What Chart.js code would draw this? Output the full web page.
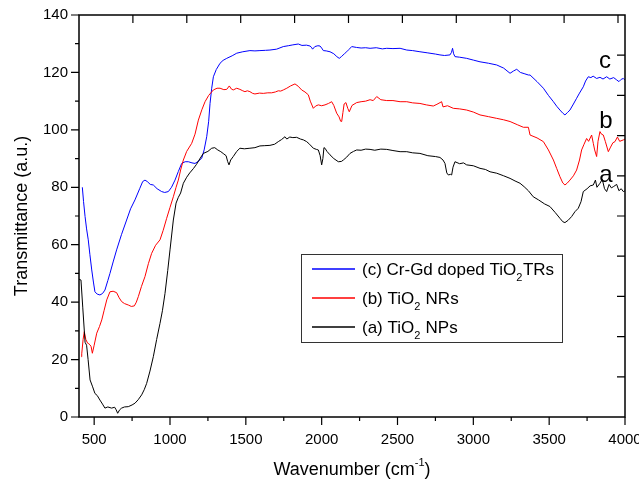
<!DOCTYPE html>
<html>
<head>
<meta charset="utf-8">
<script src="https://cdn.jsdelivr.net/npm/chart.js@4.4.1/dist/chart.umd.min.js"></script>
<style>
html,body{margin:0;padding:0;background:#fff;}
#c{display:block;}
</style>
</head>
<body>
<canvas id="c" width="639" height="484"></canvas>
<script>
// ---- Data ----
const waveA = [400,413,425,440,450,460,473,490,505,520,538,555,571,590,615,635,645,655,668,681,700,725,750,769,790,813,830,846,868,890,912,934,950,967,985,1000,1022,1040,1055,1070,1088,1110,1130,1154,1175,1200,1220,1250,1275,1295,1315,1335,1355,1370,1380,1389,1400,1417,1440,1461,1490,1527,1560,1593,1625,1659,1690,1714,1735,1758,1770,1790,1810,1835,1860,1880,1901,1920,1945,1965,1978,1990,2000,2008,2015,2022,2035,2055,2080,2110,2130,2143,2165,2187,2210,2231,2260,2290,2319,2350,2390,2429,2470,2517,2561,2600,2648,2700,2750,2780,2800,2813,2825,2835,2850,2857,2866,2879,2910,2935,2956,3000,3044,3080,3110,3154,3200,3242,3275,3308,3335,3363,3395,3430,3470,3505,3540,3571,3590,3604,3625,3648,3670,3692,3710,3725,3750,3770,3791,3805,3815,3835,3850,3865,3879,3895,3910,3923,3945,3960,3975,3989,4000];
const transA = [48,47.7,38,26,25,20,12.9,10.5,8.2,7.5,5.9,4.5,3.1,3.5,3.1,3.4,2.5,1.3,2.5,3.1,3.5,3.6,4.2,4.8,6,7.7,9.5,11.7,16,21,27,32.6,37,43,51,58.2,68.6,74.5,76.5,78,81.4,83.5,85,86.5,88,90.2,91.8,92.5,93.6,93.8,93,92.4,91.6,91,89,87.8,89.5,90.7,92.5,93.6,93.4,93.6,93.8,94.4,94.5,94.6,95,95.9,96.6,97.6,96.8,97.5,97.3,97.4,96.8,96.5,95.9,95,93.6,93.2,93,91,87.8,90,93.8,93.6,92.5,91.3,90,88.9,89,89.5,90.5,91.8,92.5,93,92.9,93.3,93.2,92.9,93.3,93.2,92.8,92.4,92.4,92,91.8,91,90.7,90.4,89.5,88.3,85,84.3,84.5,84.3,87,88.9,88.2,88.5,87.8,87.5,86.6,86.2,85.4,84.9,84,83.1,82.2,81.4,80.2,78.8,76.7,75.6,74.2,73.3,71.2,69.2,68,67.7,68.5,69.8,71.5,72.7,75,78.5,79.5,80.5,80.8,82.5,80,81.4,82.8,79.5,78.5,81,79.8,80.2,81,78.8,79.5,78.5,78.8];

const waveB = [415,418,427,435,445,457,465,473,480,488,500,517,535,550,565,583,604,625,648,665,681,700,725,745,765,778,791,812,835,858,879,905,934,955,978,1000,1022,1040,1055,1070,1088,1110,1143,1165,1187,1210,1231,1255,1286,1310,1330,1355,1374,1391,1405,1417,1440,1461,1480,1494,1510,1527,1545,1560,1590,1615,1645,1670,1695,1714,1730,1747,1770,1795,1824,1845,1868,1890,1912,1925,1945,1960,1978,2000,2022,2045,2066,2080,2099,2115,2125,2132,2140,2148,2160,2172,2182,2200,2231,2260,2290,2319,2340,2363,2390,2429,2470,2517,2561,2600,2648,2690,2736,2760,2791,2800,2830,2868,2910,2956,3000,3044,3100,3154,3200,3242,3290,3330,3363,3374,3420,3462,3495,3528,3550,3571,3590,3604,3620,3637,3660,3681,3700,3714,3730,3747,3760,3780,3791,3800,3813,3822,3835,3845,3857,3870,3890,3905,3920,3934,3950,3965,3989,4000];
const transB = [21,22,27,29.7,27,25.7,25.5,25.1,24.5,22.2,25,29.2,31.5,33.8,37,40.8,43.6,43.8,43.3,41.5,40.2,39.5,39,38.5,38.7,40,41.9,45.5,48.9,53.5,57,59.8,61.7,65,69.2,73,76.7,80,82.5,86,89.5,92.5,95.3,98.5,103.4,107,109.8,112,113.9,114.5,114.5,114,114.1,115.3,114.2,113.9,114.5,114.1,113.6,113.3,113.6,113.3,112.7,112.5,112.8,112.7,112.9,112.9,113.2,113.6,113.5,113.9,114.5,115.3,116,115.2,113.9,113.2,112.2,110,107.5,108.3,108.7,108.4,108.7,109.2,109.8,108.5,105.8,104.5,103,102.9,106,109,109.5,107.5,106.3,108.5,109.5,109.8,110,110.5,110.2,111.6,110.5,110.2,110.2,109.8,109.8,109.4,109.2,108.7,108.3,108.9,109.8,108,108.4,107.5,107.3,106.9,106.2,105.2,104.6,104,103.5,102.9,101.8,100.9,100.9,98.2,97.2,95.9,93,89.5,86.5,83.7,81.5,80.8,81.5,82.5,84,86,89.5,93,95,97,96,98.2,95.3,93,90.7,96,99.4,98.5,98.2,96,92.4,94,95.5,95.9,97.5,96,96.5,96.8];

const waveC = [422,430,440,450,461,472,484,495,505,520,538,555,571,590,604,625,648,680,714,740,769,800,820,835,850,870,890,915,945,965,989,1010,1033,1055,1077,1100,1121,1145,1165,1185,1209,1225,1242,1255,1264,1275,1286,1305,1330,1350,1374,1410,1440,1480,1527,1560,1593,1630,1659,1703,1747,1780,1810,1846,1870,1900,1923,1932,1940,1955,1975,1989,2000,2011,2030,2055,2080,2100,2116,2130,2150,2165,2180,2198,2230,2260,2290,2319,2360,2400,2429,2470,2517,2561,2600,2648,2700,2750,2780,2810,2846,2856,2863,2870,2879,2910,2956,3000,3044,3100,3154,3200,3242,3265,3286,3310,3340,3363,3374,3420,3462,3495,3528,3550,3571,3590,3604,3620,3637,3660,3681,3700,3725,3740,3758,3775,3790,3813,3835,3855,3879,3900,3925,3945,3960,3975,3989,4000];
const transC = [80,75,69.8,65.5,61.7,56.5,51.2,47,43.6,42.8,42.5,43,44.2,47.5,50,54,58.2,63.5,68.6,72.5,75.6,79.5,82,82.5,82,81,80.8,79.5,78.5,78.2,78.5,80,82.5,85.5,88.3,88.9,88.9,88.5,88.3,89,90.1,93,97.6,103,109.2,114.5,118.5,121,123.2,124.2,124.9,125.8,126.7,127.2,127.6,127.5,127.6,127.7,127.8,128.1,129,129.3,129.6,129.9,129.4,129.5,129.2,128.8,128.1,129,129.3,129.2,128.5,127.6,127.5,127.2,126.5,125.5,124.9,125.5,126.5,127.2,128,129,128.7,128.5,128.6,128.4,128.6,128.2,128.4,128.3,128.4,127.8,127.6,127.2,126.8,126.4,126.1,125.9,126.1,127,128.4,126.5,125.5,125.3,124.9,124.3,123.7,123.2,122.6,121.5,119.7,120.5,121.1,120,119.5,119.1,119.1,116.8,114.5,112,109.8,108.2,106.9,105.8,105.2,106,106.9,109,111,112.8,115,117,118.5,118.2,118.7,117.9,118.3,117.7,118.5,117.7,118.2,117.4,116.8,117.6,117.9,117.3];

const seriesNames = ['(c) Cr-Gd doped TiO|2|TRs', '(b) TiO|2| NRs', '(a) TiO|2| NPs'];
const curveLetters = ['c', 'b', 'a'];
const letterWave = [3868, 3875, 3875];
const letterTrans = [121.6, 100.7, 82.0];

const xTickLabels = [500,1000,1500,2000,2500,3000,3500,4000];
const xMinorTicks = [750,1250,1750,2250,2750,3250,3750];
const yTickLabels = [0,20,40,60,80,100,120,140];
const yMinorTicks = [10,30,50,70,90,110,130];
const topTicks = [1,2,3,4,5,6,7,8,9,10];
const rightTicks = [1,2,3,4,5,6,7,8,9];

const xTitle = ['Wavenumber (cm', '-1', ')'];
const yTitle = 'Transmittance (a.u.)';

const FONT = '"Liberation Sans", Arial, sans-serif';

function pts(w, t) { return w.map((v, i) => ({x: v, y: t[i]})); }

const decor = {
  id: 'decor',
  afterDraw(chart) {
    const ctx = chart.ctx;
    const a = chart.chartArea;
    const sx = chart.scales.x, sy = chart.scales.y;
    const st = chart.scales.xTop, sr = chart.scales.yRight;
    ctx.save();
    ctx.strokeStyle = '#000';
    ctx.lineWidth = 1.5;
    ctx.strokeRect(a.left, a.top, a.right - a.left, a.bottom - a.top);
    ctx.lineWidth = 1.2;
    ctx.beginPath();
    xTickLabels.forEach(v => { const p = sx.getPixelForValue(v); ctx.moveTo(p, a.bottom); ctx.lineTo(p, a.bottom + 8); });
    xMinorTicks.forEach(v => { const p = sx.getPixelForValue(v); ctx.moveTo(p, a.bottom); ctx.lineTo(p, a.bottom + 4); });
    yTickLabels.forEach(v => { const p = sy.getPixelForValue(v); ctx.moveTo(a.left, p); ctx.lineTo(a.left - 8, p); });
    yMinorTicks.forEach(v => { const p = sy.getPixelForValue(v); ctx.moveTo(a.left, p); ctx.lineTo(a.left - 4, p); });
    topTicks.forEach(v => { const p = st.getPixelForValue(v); ctx.moveTo(p, a.top); ctx.lineTo(p, a.top + 8); });
    rightTicks.forEach(v => { const p = sr.getPixelForValue(v); ctx.moveTo(a.right, p); ctx.lineTo(a.right - 8, p); });
    ctx.stroke();

    // curve letters
    ctx.fillStyle = '#000';
    ctx.font = '24px ' + FONT;
    ctx.textAlign = 'center';
    ctx.textBaseline = 'alphabetic';
    curveLetters.forEach((t, i) => {
      ctx.fillText(t, sx.getPixelForValue(letterWave[i]), sy.getPixelForValue(letterTrans[i]));
    });

    // legend
    const lx = 301, ly = 254, lw = 261, lh = 88;
    ctx.lineWidth = 1;
    ctx.strokeStyle = '#333';
    ctx.strokeRect(lx + 0.5, ly + 0.5, lw, lh);
    const ds = chart.data.datasets;
    const order = [2, 1, 0];
    order.forEach((di, row) => {
      const y = ly + 15 + row * 29;
      ctx.strokeStyle = ds[di].borderColor;
      ctx.lineWidth = 1.3;
      ctx.beginPath(); ctx.moveTo(312, y); ctx.lineTo(355, y); ctx.stroke();
      const parts = seriesNames[row].split('|');
      let x = 362;
      ctx.textAlign = 'left';
      ctx.fillStyle = '#000';
      parts.forEach((p, k) => {
        if (k === 1) {
          ctx.font = '11px ' + FONT;
          ctx.fillText(p, x, y + 12);
        } else {
          ctx.font = '17px ' + FONT;
          ctx.fillText(p, x, y + 6);
        }
        x += ctx.measureText(p).width + (k === 1 ? 0.5 : 0);
      });
    });

    // x title with superscript
    ctx.fillStyle = '#000';
    ctx.textAlign = 'left';
    ctx.font = '18px ' + FONT;
    const w0 = ctx.measureText(xTitle[0]).width;
    const w2 = ctx.measureText(xTitle[2]).width;
    ctx.font = '11px ' + FONT;
    const w1 = ctx.measureText(xTitle[1]).width;
    const cx = (a.left + a.right) / 2;
    let tx = cx - (w0 + w1 + w2) / 2;
    const by = 475;
    ctx.font = '18px ' + FONT;
    ctx.fillText(xTitle[0], tx, by); tx += w0;
    ctx.font = '11px ' + FONT;
    ctx.fillText(xTitle[1], tx, by - 9); tx += w1;
    ctx.font = '18px ' + FONT;
    ctx.fillText(xTitle[2], tx, by);

    // y title
    ctx.save();
    ctx.translate(22, (a.top + a.bottom) / 2);
    ctx.rotate(-Math.PI / 2);
    ctx.textAlign = 'center';
    ctx.textBaseline = 'middle';
    ctx.font = '18px ' + FONT;
    ctx.fillText(yTitle, 0, 0);
    ctx.restore();
    ctx.restore();
  }
};

new Chart(document.getElementById('c'), {
  type: 'line',
  data: {
    datasets: [
      { label: '(a) TiO2 NPs', data: pts(waveA, transA), borderColor: '#000000' },
      { label: '(b) TiO2 NRs', data: pts(waveB, transB), borderColor: '#ff0000' },
      { label: '(c) Cr-Gd doped TiO2TRs', data: pts(waveC, transC), borderColor: '#0000ff' }
    ]
  },
  options: {
    responsive: false,
    animation: false,
    devicePixelRatio: 1,
    layout: { padding: { left: 0, right: 14, top: 15, bottom: 0 } },
    elements: { point: { radius: 0 }, line: { borderWidth: 1, tension: 0 } },
    plugins: { legend: { display: false }, tooltip: { enabled: false } },
    scales: {
      x: {
        type: 'linear', position: 'bottom', min: 400, max: 4000,
        afterBuildTicks: s => { s.ticks = xTickLabels.map(v => ({value: v})); },
        afterFit: s => { s.height = 67; s.paddingLeft = 0; s.paddingRight = 0; },
        grid: { display: false, drawTicks: false },
        border: { display: false },
        ticks: { padding: 14, color: '#000', font: { size: 15, family: FONT }, maxRotation: 0, autoSkip: false, callback: v => String(v) }
      },
      y: {
        type: 'linear', position: 'left', min: 0, max: 140,
        afterBuildTicks: s => { s.ticks = yTickLabels.map(v => ({value: v})); },
        afterFit: s => { s.width = 79; s.paddingTop = 0; s.paddingBottom = 0; },
        grid: { display: false, drawTicks: false },
        border: { display: false },
        ticks: { padding: 11, color: '#000', font: { size: 15, family: FONT }, callback: v => String(v) }
      },
      xTop: { type: 'linear', position: 'top', min: 0, max: 10.13, display: false },
      yRight: { type: 'linear', position: 'right', min: 0, max: 10, display: false }
    }
  },
  plugins: [decor]
});
</script>
</body>
</html>
